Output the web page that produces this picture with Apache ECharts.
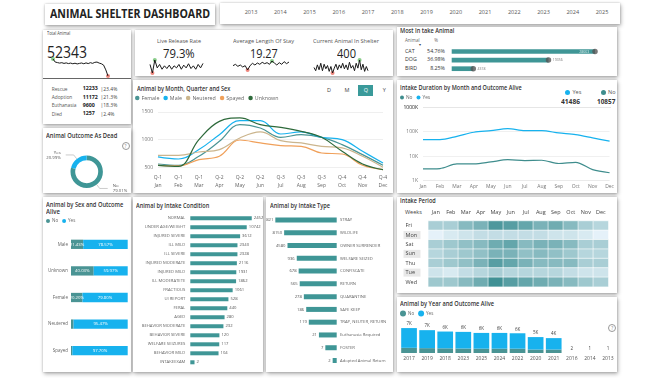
<!DOCTYPE html>
<html><head><meta charset="utf-8">
<script src="https://cdn.jsdelivr.net/npm/echarts@6.0.0/dist/echarts.min.js"></script>
<style>
html,body{margin:0;padding:0;background:#fff;}
body{width:672px;height:378px;overflow:hidden;position:relative;font-family:"Open Sans","Noto Sans",sans-serif;color:#333;}
.p{position:absolute;background:#fff;box-shadow:0 0 2px rgba(0,0,0,0.22),1px 2px 4px rgba(0,0,0,0.3);}
.t{position:absolute;white-space:nowrap;line-height:1;transform-origin:0 50%;}
.ch{position:absolute;}
.hl{position:absolute;border:0.7px solid #999;border-radius:50%;width:6px;height:6px;font-size:4.5px;line-height:6px;text-align:center;color:#888;}
</style></head><body>
<script>
// ---------------- DATA ----------------
const years=['2013','2014','2015','2016','2017','2018','2019','2020','2021','2022','2023','2024','2025'];
const totalAnimal=52343;
const outcomeNames=['Rescue','Adoption','Euthanasia','Died'];
const outcomeCounts=[12233,11172,9600,1257];
const outcomeShares=['23.4%','21.3%','18.3%','2.4%'];
const totalTrend=[560,470,455,440,452,430,446,425,440,420,436,415,430,442,420,446,425,452,432,462,470,440,420,380,240,60];
const kpiNames=['Live Release Rate','Average Length Of Stay','Current Animal In Shelter'];
const kpiValues=['79.3%','19.27','400'];
const liveReleaseTrend=[81,68.5,87.5,76,81,74,79,75,80,74,79,76,81,74,80,76,82,75,79,74,81,76,82.5];
const stayTrend=[19.5,20.5,19,20,18.5,19.5,16.25,19.5,21.25,20,21.5,20.5,22,21,21.75,20.5,23,21.5,20,21.75,20.5,22.5,21,22.25];
const shelterTrend=[428,388,460,400,480,388,468,412,452,380,440,360,420,468,400,460,420,480,412,460,400,492,420,452,388,480,420,520,400,468,380,440,388];
const intakeAnimals=['CAT','DOG','BIRD'];
const intakeAnimalShares=['54.76%','36.98%','8.25%'];
const intakeAnimalCounts=[28663,19356,4318];
const months=['Jan','Feb','Mar','Apr','May','Jun','Jul','Aug','Sep','Oct','Nov','Dec'];
const quarters=['Q-1','Q-1','Q-1','Q-2','Q-2','Q-2','Q-3','Q-3','Q-3','Q-4','Q-4','Q-4'];
const sexNames=['Female','Male','Neutered','Spayed','Unknown'];
const femaleByMonth=[560,536,700,970,1271,1210,1042,1090,1042,910,729,536];
const maleByMonth=[687,650,820,1090,1343,1343,1102,1140,1042,1000,789,578];
const neuteredByMonth=[717,717,777,820,1030,1140,982,940,880,850,699,500];
const spayedByMonth=[536,524,639,700,994,940,892,880,759,741,536,458];
const unknownByMonth=[536,518,1000,1331,1392,1271,1223,1151,1042,789,560,458];
const durationTickLabels=['1000K','100K','10K','1K'];
const durationYes=[47600,47600,65000,95000,111000,134000,111000,111000,89000,76000,56000,41000];
const durationNo=[3000,3100,4800,4800,5800,7200,6600,6800,5000,5600,2800,2100];
const aliveYesTotal=41486, aliveNoTotal=10857;
const deadNames=['No','Yes'];
const deadShares=[79.01,20.99];
const sexCats=['Male','Unknown','Female','Neutered','Spayed'];
const sexNoShare=[21.43,40.03,20.20,4.53,2.30];
const sexYesShare=[78.57,59.97,79.80,95.47,97.70];
const conditionNames=['NORMAL','UNDER AGE/WEIGHT','INJURED SEVERE','ILL MILD','ILL SEVERE','INJURED MODERATE','INJURED MILD','ILL MODERATETE','FRACTIOUS','UI REPORT','FERAL','AGED','BEHAVIOR MODERATE','BEHAVIOR SEVERE','WELFARE SEIZURES','BEHAVIOR MILD','INTAKEEXAM'];
const conditionCounts=[24528,10742,3612,2340,2328,2116,1931,1862,1061,528,440,280,232,120,117,104,2];
const typeNames=['STRAY','WILDLIFE','OWNER SURRENDER','WELFARE SEIZED','CONFISCATE','RETURN','QUARANTINE','SAFE KEEP','TRAP, NEUTER, RETURN','Euthanasia Required','FOSTER','Adopted Animal Return'];
const typeCounts=[36821,8150,4580,936,678,565,278,186,119,21,7,2];
const weekdays=['Fri','Mon','Sat','Sun','Thu','Tue','Wed'];
const periodFri=[670,670,800,850,1020,980,930,850,890,800,670,620];
const periodMon=[440,490,530,570,570,570,570,570,530,530,490,440];
const periodSat=[670,710,760,800,890,930,800,850,850,800,670,670];
const periodSun=[620,670,710,760,850,850,760,800,760,710,620,620];
const periodThu=[670,710,760,850,980,930,850,800,800,800,670,670];
const periodTue=[530,490,570,620,670,620,620,620,620,570,530,530];
const periodWed=[710,710,800,890,1070,980,930,890,850,800,710,670];
const yearOrder=['2017','2019','2018','2023','2025','2024','2022','2020','2021','2016','2014','2013'];
const yearNo=[1500,1400,1350,1300,1250,1250,1250,1000,1000,1,0,0];
const yearYes=[5700,5200,4850,4800,4550,4550,4450,3600,3300,1,1,1];

// ---------------- HELPERS ----------------
const FONT='"Open Sans","Noto Sans",sans-serif';
const TEAL='#3f9696', BLUE='#17b2ee';
function box(x,y,w,h,cls){const d=document.createElement('div');d.className=cls||'p';Object.assign(d.style,{left:x+'px',top:y+'px',width:w+'px',height:h+'px'});document.body.appendChild(d);return d;}
function mk(x,y,w,h){const d=box(x,y,w,h,'ch');return echarts.init(d,null,{renderer:'canvas'});}
function txt(x,y,s,size,o){
  o=o||{};
  const d=document.createElement('div');d.className='t';d.textContent=s;
  d.style.fontSize=size+'px';d.style.color=o.c||'#333';
  if(o.w)d.style.fontWeight=o.w;
  document.body.appendChild(d);
  const r=d.getBoundingClientRect();
  let sx=1;if(o.fit)sx=o.fit/r.width;
  const w=r.width*sx;const a=o.a||'l';
  const left=a==='c'?x-w/2:a==='r'?x-w:x;
  d.style.left=left+'px';d.style.top=(y-r.height/2)+'px';
  if(sx!==1)d.style.transform='scaleX('+sx+')';
  return d;
}
function help(x,y){const d=box(x-3.5,y-3.5,6,6,'hl');d.textContent='?';}
const base={animation:false,textStyle:{fontFamily:FONT}};
function legend(left,top,size,font,names){return {left:left,top:top,padding:0,icon:'circle',itemWidth:size,itemHeight:size,itemGap:4,textStyle:{fontSize:font,color:'#666',padding:[0,0,0,-3]},data:names};}

// ---------------- PANELS ----------------
box(45,4,170,21);box(220,3,400,21);
box(43,30,88,94);box(135,30,258,46);box(397,27,220,49);
box(133,80,260,113);box(397,80,220,113);box(43,128,88,65);
box(43,197,88,175);box(133,197,130,175);box(266,197,127,175);
box(397,197,220,96);box(397,297,220,75);

// ---------------- HEADER ----------------
txt(130,13.5,'ANIMAL SHELTER DASHBOARD',12,{w:700,a:'c',c:'#222',fit:160});
years.forEach((y,i)=>txt(251+i*29.25,13,y,5.5,{a:'c',c:'#555'}));

// ---------------- TOTAL ANIMAL ----------------
txt(46.7,34,'Total Animal',5.5,{c:'#444',fit:23.3});
txt(46.5,51,String(totalAnimal),17,{c:'#222',fit:40});
box(43,78,88,0.7,'t').style.background='#666';
const rowY=[89,97.3,105.7,114];
outcomeNames.forEach((n,i)=>{
  txt(51.7,rowY[i],n,4.8,{c:'#555'});
  txt(82.7,rowY[i],String(outcomeCounts[i]),5.3,{w:700,c:'#222'});
  txt(100.5,rowY[i],'|'+outcomeShares[i],5,{c:'#444'});
});
function spark(x,y,w,h,data){
  const c=mk(x,y,w,h);const mn=Math.min(...data),mx=Math.max(...data);
  c.setOption(Object.assign({},base,{grid:{left:2,right:2,top:2,bottom:2},
    xAxis:{type:'category',show:false,boundaryGap:false,data:data.map((d,i)=>i)},
    yAxis:{type:'value',show:false,min:mn,max:mx},
    series:[{type:'line',data:data,symbol:'none',lineStyle:{color:'#1a1a1a',width:1}},
      {type:'scatter',symbolSize:4,data:[{value:[data.indexOf(mn),mn],itemStyle:{color:'#e8685c'}},{value:[data.indexOf(mx),mx],itemStyle:{color:'#6cbf6c'}}]}]}));
}
spark(51,57,59,20.7,totalTrend);

// ---------------- KPIs ----------------
const kpiX=[179.3,263.5,346],kpiFit=[44,61,66],valFit=[31.7,27.7,19];
kpiNames.forEach((n,i)=>{txt(kpiX[i],42,n,5.5,{a:'c',c:'#555',fit:kpiFit[i]});txt(kpiX[i],54,kpiValues[i],12,{a:'c',c:'#222',fit:valFit[i]});});
spark(148,57.7,57,16.7,liveReleaseTrend);
spark(231,58.7,60,13,stayTrend);
spark(312,57.7,58,17.3,shelterTrend);

// ---------------- MOST INTAKE ANIMAL ----------------
txt(400,31.7,'Most In take Animal',6.5,{w:600,c:'#333',fit:54.3});
txt(405,40.7,'Animal',4.5,{c:'#666'});txt(434.3,40.7,'%',4.5,{c:'#666'});
txt(419,44.8,'▾',4,{c:'#444'});
const mostY=[51.5,60.1,68.7];
intakeAnimals.forEach((n,i)=>{txt(405,mostY[i],n,5.3,{c:'#333'});txt(445,mostY[i],intakeAnimalShares[i],5.3,{a:'r',c:'#333'});});
(function(){
  const c=mk(397,27,220,49);
  c.setOption(Object.assign({},base,{grid:{left:54.7,top:20.2,width:160,height:25.8},
    xAxis:{type:'value',show:false,min:0,max:32000},
    yAxis:{type:'category',show:false,inverse:true,data:intakeAnimals},
    series:[{type:'bar',data:intakeAnimalCounts,barWidth:4.7,itemStyle:{color:TEAL}},
      {type:'scatter',symbolSize:5.5,itemStyle:{color:'#555'},
       data:intakeAnimalCounts.map((v,i)=>({value:[v,i],label:{show:true,position:i===0?'left':'right',distance:i===0?3:1.5,fontSize:3.5,color:i===0?'#fff':'#555',formatter:String(v)}}))}]}));
})();

// ---------------- MONTH / QUARTER / SEX ----------------
txt(136.5,88,'Animal by Month, Quarter and Sex',7,{w:600,c:'#333',fit:93.3});
txt(329,90.7,'D',5.5,{a:'c',c:'#444'});txt(347,90.7,'M',5.5,{a:'c',c:'#444'});
box(358.3,85.3,15,11,'t').style.background='#3a9a9a';
txt(365.8,90.8,'Q',5.5,{a:'c',c:'#fff'});txt(384.3,90.7,'Y',5.5,{a:'c',c:'#444'});
(function(){
  const c=mk(133,80,260,113);
  const cols=['#4a9494',BLUE,'#cbb58d','#f0a05a','#2e6a3b'];
  const dat=[femaleByMonth,maleByMonth,neuteredByMonth,spayedByMonth,unknownByMonth];
  c.setOption(Object.assign({},base,{
    legend:legend(2,15.5,4.5,5.3,sexNames),
    grid:{left:25,top:32,width:225,height:55.3},
    xAxis:{type:'category',boundaryGap:false,data:months,axisLine:{show:false},axisTick:{show:false},
      axisLabel:{fontSize:5,color:'#666',lineHeight:8,margin:6,formatter:(v,i)=>quarters[i]+'\n'+v}},
    yAxis:{type:'value',min:500,max:1500,interval:500,axisLabel:{fontSize:5,color:'#777',margin:5,formatter:v=>String(v)},splitLine:{lineStyle:{color:'#e4e4e4',width:0.6}}},
    series:sexNames.map((n,i)=>({name:n,type:'line',smooth:0.4,clip:false,symbol:'none',data:dat[i],color:cols[i],lineStyle:{width:1.2,color:cols[i]}}))
  }));
})();

// ---------------- INTAKE DURATION ----------------
txt(400,87.3,'Intake Duration by Month and Outcome Alive',7,{w:600,c:'#333',fit:121.7});
box(565,89.6,5.4,5.4,'t').style.cssText+=';background:'+BLUE+';border-radius:50%';
txt(572.5,92.3,'Yes',5.5,{c:'#555'});
txt(570.5,101.3,String(aliveYesTotal),7,{w:700,a:'c',c:'#333',fit:19});
box(600.6,89.6,5.4,5.4,'t').style.cssText+=';background:#3f8d8d;border-radius:50%';
txt(608,92.3,'No',5.5,{c:'#555'});
txt(605.8,101.3,String(aliveNoTotal),7,{w:700,a:'c',c:'#333',fit:18.3});
(function(){
  const c=mk(397,80,220,113);
  c.setOption(Object.assign({},base,{
    legend:legend(3,15,4,4.8,['No','Yes']),
    grid:{left:26,top:27.3,width:188,height:73.3},
    xAxis:{type:'category',boundaryGap:false,data:months,axisLine:{show:false},axisTick:{show:false},axisLabel:{fontSize:5,color:'#777',margin:3}},
    yAxis:{type:'log',logBase:10,min:1000,max:1000000,axisLine:{show:false},axisTick:{show:false},
      axisLabel:{fontSize:5,color:'#777',margin:5,formatter:v=>Math.round(v/1000)+'K'},
      splitLine:{lineStyle:{color:'#e6e6e6',width:0.6}}},
    series:[{name:'No',type:'line',smooth:0.3,symbol:'none',data:durationNo,color:'#3f8d8d',lineStyle:{width:1.2}},
            {name:'Yes',type:'line',smooth:0.3,symbol:'none',data:durationYes,color:BLUE,lineStyle:{width:1.2}}]
  }));
  // top tick label of the log axis (hidden by the library at the axis end)
  txt(418,107.3,durationTickLabels[0],5,{a:'r',c:'#777'});
  box(423,107.1,188,0.6,'t').style.background='#e6e6e6';
})();

// ---------------- OUTCOME AS DEAD ----------------
txt(46,135,'Animal Outcome As Dead',7,{w:600,c:'#333',fit:71.3});
help(125,145.7);
(function(){
  const c=mk(43,128,88,65);
  c.setOption(Object.assign({},base,{
    series:[{type:'pie',radius:[11.5,16.2],center:[43.7,43.7],startAngle:90,clockwise:true,
      label:{show:true,fontSize:4.3,color:'#555',lineHeight:5,formatter:p=>p.name+'\n'+p.value.toFixed(2)+'%'},
      labelLine:{length:5,length2:8,lineStyle:{color:'#999',width:0.5}},
      data:deadNames.map((n,i)=>({name:n,value:deadShares[i],itemStyle:{color:i===0?TEAL:BLUE}}))}]
  }));
})();

// ---------------- SEX & OUTCOME ALIVE ----------------
txt(46,204.3,'Animal by Sex and Outcome',7,{w:600,c:'#333',fit:77.3});
txt(46,211,'Alive',7,{w:600,c:'#333',fit:14});
(function(){
  const c=mk(43,197,88,175);
  c.setOption(Object.assign({},base,{
    legend:legend(3,21.5,4,4.5,['No','Yes']),
    grid:{left:28,top:34,width:56.7,height:133},
    xAxis:{type:'value',show:false,min:0,max:100},
    yAxis:{type:'category',inverse:true,data:sexCats,axisLine:{show:false},axisTick:{show:false},axisLabel:{fontSize:4.5,color:'#666',margin:3}},
    series:[{name:'No',type:'bar',stack:'a',barWidth:9.3,data:sexNoShare,color:'#4a9494',
        label:{show:true,position:'inside',fontSize:4.3,color:'#fff',formatter:p=>p.value>10?p.value.toFixed(2)+'%':''}},
      {name:'Yes',type:'bar',stack:'a',barWidth:9.3,data:sexYesShare,color:BLUE,
        label:{show:true,position:'inside',fontSize:4.3,color:'#fff',formatter:p=>p.value.toFixed(2)+'%'}}]
  }));
})();

// ---------------- INTAKE CONDITION ----------------
txt(136,205,'Animal by Intake Condition',7,{w:600,c:'#333',fit:73.3});
(function(){
  const c=mk(133,197,130,175);
  c.setOption(Object.assign({},base,{
    grid:{left:55.3,top:16.8,width:72,height:153},
    xAxis:{type:'log',show:false,min:0.72,max:100000},
    yAxis:{type:'category',inverse:true,data:conditionNames,axisLine:{show:false},axisTick:{show:false},axisLabel:{fontSize:4.2,color:'#666',margin:3}},
    series:[{type:'bar',data:conditionCounts,barWidth:4,color:TEAL,label:{show:true,position:'right',distance:2,fontSize:4.2,color:'#555'}}]
  }));
})();

// ---------------- INTAKE TYPE ----------------
txt(270,205,'Animal by Intake Type',7,{w:600,c:'#333',fit:60});
(function(){
  const c=mk(266,197,127,175);
  c.setOption(Object.assign({},base,{
    grid:{left:3.5,top:16.6,width:67.2,height:153.3},
    xAxis:{type:'log',show:false,inverse:true,min:1,max:100000},
    yAxis:{type:'category',inverse:true,position:'right',data:typeNames,axisLine:{show:false},axisTick:{show:false},axisLabel:{fontSize:4.2,color:'#666',margin:3.3,align:'left'}},
    series:[{type:'bar',data:typeCounts,barWidth:5,color:TEAL,label:{show:true,position:'left',distance:2,fontSize:4.2,color:'#555'}}]
  }));
})();

// ---------------- INTAKE PERIOD ----------------
txt(400,201.7,'Intake Period',6.5,{w:600,c:'#333',fit:35.7});
txt(405,212.3,'Weeks',5.5,{c:'#444'});
(function(){
  const c=mk(397,197,220,96);
  const rows=[periodFri,periodMon,periodSat,periodSun,periodThu,periodTue,periodWed];
  const data=[];rows.forEach((r,yi)=>r.forEach((v,xi)=>data.push([xi,yi,v])));
  c.setOption(Object.assign({},base,{
    grid:{left:31.3,top:24,width:180,height:65.7},
    xAxis:{type:'category',position:'top',data:months,axisLine:{show:false},axisTick:{show:false},axisLabel:{fontSize:5.5,color:'#444',margin:6}},
    yAxis:{type:'category',inverse:true,data:weekdays,axisLine:{show:false},axisTick:{show:false},
      axisLabel:{align:'left',margin:24.8,fontSize:5.5,color:'#444',formatter:(v,i)=>(i%2===1?'{g|':'{n|')+v+'}',
        rich:{g:{backgroundColor:'#e8e8e8',width:15,height:8,padding:[0,0,0,2],fontSize:5.5,color:'#444'},n:{width:15,height:8,padding:[0,0,0,2],fontSize:5.5,color:'#444'}}}},
    visualMap:{show:false,min:430,max:1080,inRange:{color:['#e8f3fb','#3d8f93']}},
    series:[{type:'heatmap',data:data,itemStyle:{borderColor:'#fff',borderWidth:0.6}}]
  }));
})();

// ---------------- YEAR & OUTCOME ALIVE ----------------
txt(400,303,'Animal by Year and Outcome Alive',7,{w:600,c:'#333',fit:94});
help(611.7,327.3);
(function(){
  const c=mk(397,297,220,75);
  const fmt=t=>t>=1000?Math.round(t/1000)+'K':String(t);
  c.setOption(Object.assign({},base,{
    legend:legend(3,13.5,6,4.5,['No','Yes']),
    grid:{left:3,top:20,width:219,height:36},
    xAxis:{type:'category',data:yearOrder,axisLine:{show:false},axisTick:{show:false},axisLabel:{fontSize:5,color:'#555',margin:3}},
    yAxis:{type:'value',show:false,min:0,max:10400},
    series:[{name:'No',type:'bar',stack:'y',data:yearNo,color:'#4a9494',barWidth:15.7},
      {name:'Yes',type:'bar',stack:'y',data:yearYes,color:BLUE,barWidth:15.7,
       label:{show:true,position:'top',distance:1.5,fontSize:4.5,color:'#444',formatter:p=>fmt(yearNo[p.dataIndex]+yearYes[p.dataIndex])}}]
  }));
})();
</script></body></html>
